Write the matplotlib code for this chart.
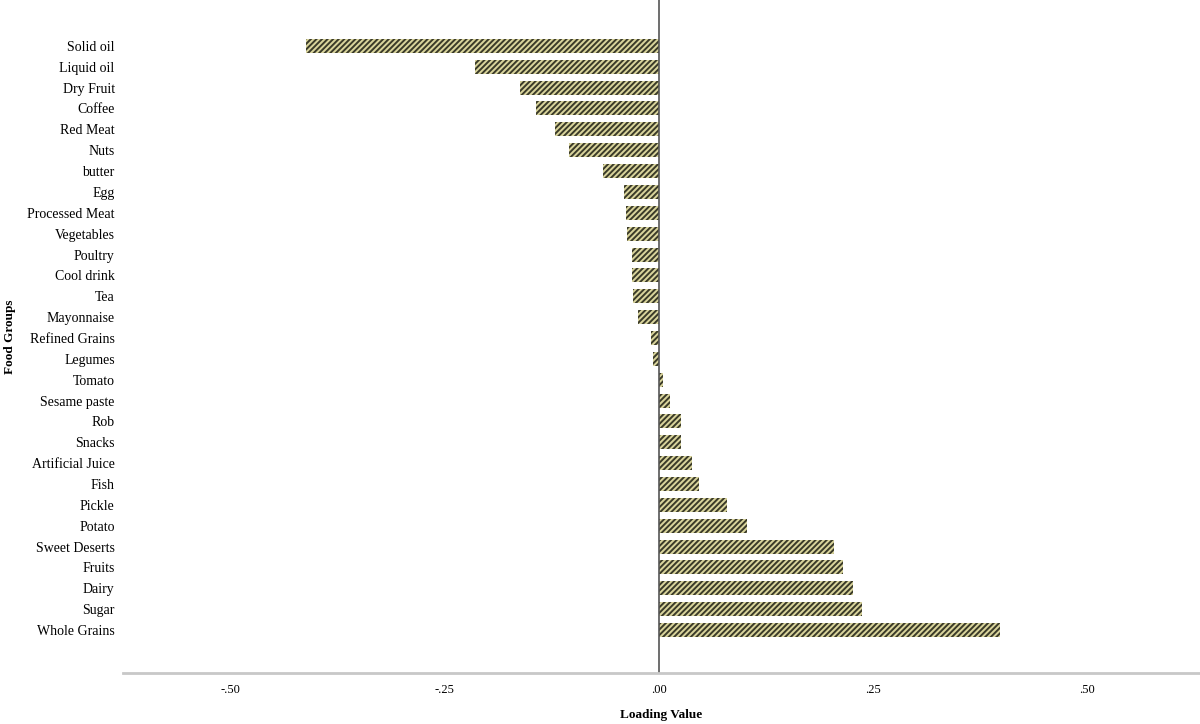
import matplotlib
matplotlib.use("Agg")
import matplotlib.pyplot as plt

foods = ["Solid oil", "Liquid oil", "Dry Fruit", "Coffee", "Red Meat", "Nuts", "butter",
         "Egg", "Processed Meat", "Vegetables", "Poultry", "Cool drink", "Tea",
         "Mayonnaise", "Refined Grains", "Legumes", "Tomato", "Sesame paste", "Rob",
         "Snacks", "Artificial Juice", "Fish", "Pickle", "Potato", "Sweet Deserts",
         "Fruits", "Dairy", "Sugar", "Whole Grains"]
loadings = [-0.412, -0.215, -0.162, -0.144, -0.121, -0.105, -0.065,
            -0.041, -0.039, -0.037, -0.032, -0.032, -0.030,
            -0.025, -0.009, -0.007, 0.005, 0.013, 0.026,
            0.026, 0.039, 0.047, 0.079, 0.103, 0.204,
            0.215, 0.227, 0.237, 0.398]
xticks = [-0.50, -0.25, 0.00, 0.25, 0.50]
xticklabels = ["-.50", "-.25", ".00", ".25", ".50"]

plt.rcParams['font.family'] = ['Liberation Serif', 'DejaVu Serif']
plt.rcParams['hatch.linewidth'] = 1.4

fig = plt.figure(figsize=(12, 7.24), dpi=100)
ax = fig.add_axes([123 / 1200, 1 - 673 / 724, 1 - 123 / 1200, 673 / 724])

ypos = list(range(len(foods)))
ax.barh(ypos, loadings, height=0.67, color='#d9d49c', edgecolor='#3a3a28',
        linewidth=0, hatch='//////')

ax.axvline(0, color='#555555', linewidth=1.2)
ax.set_xlim(-0.626, 0.632)
ax.set_ylim(30.06, -2.2)

ax.set_yticks(ypos)
ax.set_yticklabels(foods, fontsize=10)
ax.set_xticks(xticks)
ax.set_xticklabels(xticklabels, fontsize=9)
ax.tick_params(axis='both', length=0)
ax.tick_params(axis='y', pad=6)
ax.tick_params(axis='x', pad=8)

for s in ['top', 'right', 'left']:
    ax.spines[s].set_visible(False)
ax.spines['bottom'].set_color('#c8c8c8')
ax.spines['bottom'].set_linewidth(2)

ax.set_xlabel("Loading Value", fontsize=9.5, fontweight='bold', labelpad=9)
ax.set_ylabel("Food Groups", fontsize=9.5, fontweight='bold', labelpad=8)

fig.savefig("out.png", dpi=100)
